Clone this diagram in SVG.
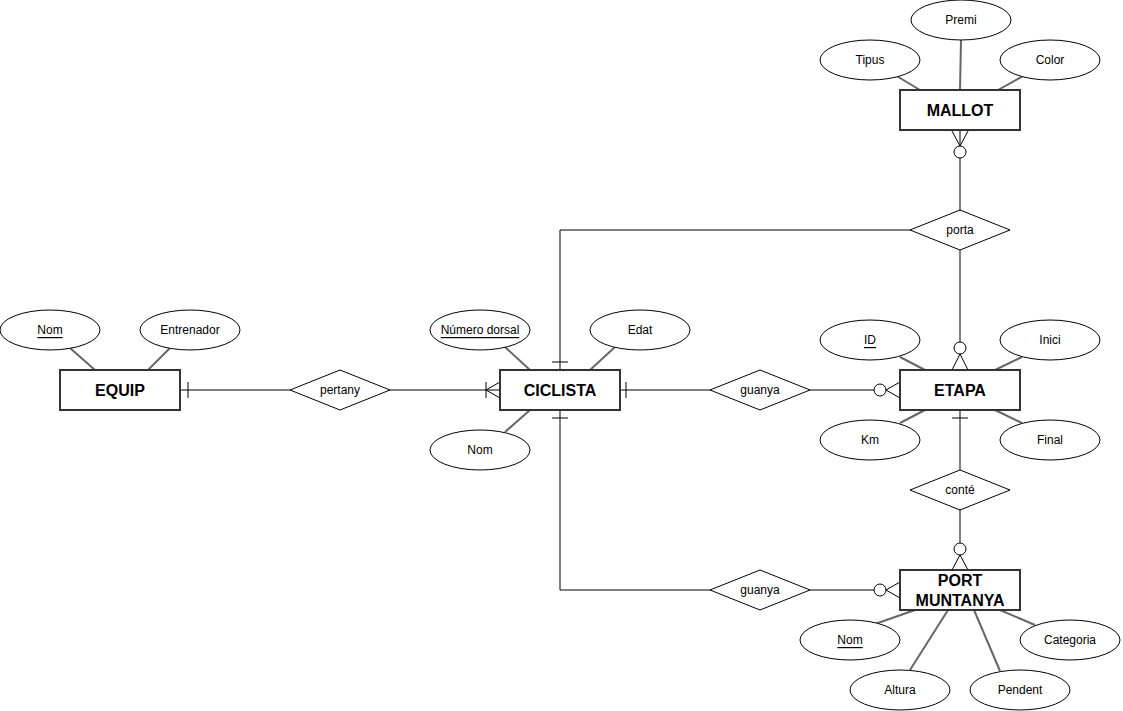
<svg xmlns="http://www.w3.org/2000/svg" width="1123" height="711" viewBox="0 0 1123 711">
<style>
.e{fill:#fff;stroke:#000;stroke-width:1}
.r{fill:#fff;stroke:#333;stroke-width:2}
.d{fill:#fff;stroke:#000;stroke-width:1}
.a{stroke:#666;stroke-width:2;fill:none}
.c{stroke:#000;stroke-width:1;fill:none}
.o{fill:#fff;stroke:#000;stroke-width:1}
text{font-family:"Liberation Sans",Arial,sans-serif;font-size:12px;text-anchor:middle;dominant-baseline:central;fill:#000}
.b{font-weight:bold;font-size:16px}
</style>
<rect width="1123" height="711" fill="#fff"/>
<g id="attrlines" class="a">
<line x1="70" y1="348" x2="95" y2="370"/><line x1="170" y1="348" x2="148" y2="370"/>
<line x1="505" y1="347" x2="530" y2="370"/><line x1="615" y1="347" x2="590" y2="370"/>
<line x1="505" y1="432" x2="530" y2="410"/>
<line x1="900" y1="357" x2="925" y2="370"/><line x1="1022" y1="357" x2="995" y2="370"/>
<line x1="900" y1="423" x2="925" y2="410"/><line x1="1022" y1="423" x2="995" y2="410"/>
<line x1="895" y1="75" x2="920" y2="90"/><line x1="961" y1="40" x2="960" y2="90"/><line x1="1025" y1="75" x2="998" y2="90"/>
<line x1="875" y1="624" x2="915" y2="610"/><line x1="910" y1="670" x2="948" y2="610"/><line x1="1000" y1="671" x2="974" y2="610"/><line x1="1035" y1="625" x2="1000" y2="610"/>
</g>
<g id="connectors" class="c">
<line x1="180" y1="390" x2="290" y2="390"/><line x1="188" y1="382" x2="188" y2="398"/>
<line x1="390" y1="390" x2="500" y2="390"/><line x1="486" y1="382" x2="486" y2="398"/><polyline points="500,382 486,390 500,398"/>
<line x1="620" y1="390" x2="710" y2="390"/><line x1="626" y1="382" x2="626" y2="398"/>
<line x1="810" y1="390" x2="874" y2="390"/><polyline points="900,382 886,390 900,398"/><circle class="o" cx="880" cy="390" r="6"/>
<polyline points="910,230 560,230 560,370"/><line x1="552" y1="362" x2="568" y2="362"/>
<line x1="960" y1="250" x2="960" y2="342"/><polyline points="952,370 960,354 968,370"/><circle class="o" cx="960" cy="348" r="6"/>
<line x1="960" y1="131" x2="960" y2="210"/><polyline points="952,131 960,146 968,131"/><circle class="o" cx="960" cy="152" r="6"/>
<line x1="960" y1="410" x2="960" y2="470"/><line x1="952" y1="418" x2="968" y2="418"/>
<line x1="960" y1="510" x2="960" y2="543"/><polyline points="952,570 960,555 968,570"/><circle class="o" cx="960" cy="549" r="6"/>
<polyline points="560,410 560,590 710,590"/><line x1="552" y1="418" x2="568" y2="418"/>
<line x1="810" y1="590" x2="874" y2="590"/><polyline points="900,582 886,590 900,598"/><circle class="o" cx="880" cy="590" r="6"/>
</g>
<g id="equip"><rect class="r" x="60" y="370" width="120" height="40"/><text class="b" x="120" y="390">EQUIP</text></g>
<g id="ciclista"><rect class="r" x="500" y="370" width="120" height="40"/><text class="b" x="560" y="390">CICLISTA</text></g>
<g id="etapa"><rect class="r" x="900" y="370" width="120" height="40"/><text class="b" x="960" y="390">ETAPA</text></g>
<g id="mallot"><rect class="r" x="900" y="90" width="120" height="40"/><text class="b" x="960" y="110">MALLOT</text></g>
<g id="port"><rect class="r" x="900" y="570" width="120" height="40"/><text class="b" x="960" y="580">PORT</text><text class="b" x="960" y="600">MUNTANYA</text></g>
<g id="pertany"><polygon class="d" points="290,390 340,370 390,390 340,410"/><text x="340" y="390">pertany</text></g>
<g id="guanya1"><polygon class="d" points="710,390 760,370 810,390 760,410"/><text x="760" y="390">guanya</text></g>
<g id="porta"><polygon class="d" points="910,230 960,210 1010,230 960,250"/><text x="960" y="230">porta</text></g>
<g id="conte"><polygon class="d" points="910,490 960,470 1010,490 960,510"/><text x="960" y="490">conté</text></g>
<g id="guanya2"><polygon class="d" points="710,590 760,570 810,590 760,610"/><text x="760" y="590">guanya</text></g>
<g id="a-equip-nom"><ellipse class="e" cx="50" cy="330" rx="50" ry="20"/><text x="50" y="330" text-decoration="underline">Nom</text></g>
<g id="a-entrenador"><ellipse class="e" cx="190" cy="330" rx="50" ry="20"/><text x="190" y="330">Entrenador</text></g>
<g id="a-dorsal"><ellipse class="e" cx="480" cy="330" rx="50" ry="20"/><text x="480" y="330" text-decoration="underline">Número dorsal</text></g>
<g id="a-edat"><ellipse class="e" cx="640" cy="330" rx="50" ry="20"/><text x="640" y="330">Edat</text></g>
<g id="a-cic-nom"><ellipse class="e" cx="480" cy="450" rx="50" ry="20"/><text x="480" y="450">Nom</text></g>
<g id="a-id"><ellipse class="e" cx="870" cy="340" rx="50" ry="20"/><text x="870" y="340" text-decoration="underline">ID</text></g>
<g id="a-inici"><ellipse class="e" cx="1050" cy="340" rx="50" ry="20"/><text x="1050" y="340">Inici</text></g>
<g id="a-km"><ellipse class="e" cx="870" cy="440" rx="50" ry="20"/><text x="870" y="440">Km</text></g>
<g id="a-final"><ellipse class="e" cx="1050" cy="440" rx="50" ry="20"/><text x="1050" y="440">Final</text></g>
<g id="a-tipus"><ellipse class="e" cx="870" cy="60" rx="50" ry="20"/><text x="870" y="60">Tipus</text></g>
<g id="a-premi"><ellipse class="e" cx="961" cy="20" rx="50" ry="20"/><text x="961" y="20">Premi</text></g>
<g id="a-color"><ellipse class="e" cx="1050" cy="60" rx="50" ry="20"/><text x="1050" y="60">Color</text></g>
<g id="a-port-nom"><ellipse class="e" cx="850" cy="640" rx="50" ry="20"/><text x="850" y="640" text-decoration="underline">Nom</text></g>
<g id="a-categoria"><ellipse class="e" cx="1070" cy="640" rx="50" ry="20"/><text x="1070" y="640">Categoria</text></g>
<g id="a-altura"><ellipse class="e" cx="900" cy="690" rx="50" ry="20"/><text x="900" y="690">Altura</text></g>
<g id="a-pendent"><ellipse class="e" cx="1020" cy="690" rx="50" ry="20"/><text x="1020" y="690">Pendent</text></g>
</svg>
